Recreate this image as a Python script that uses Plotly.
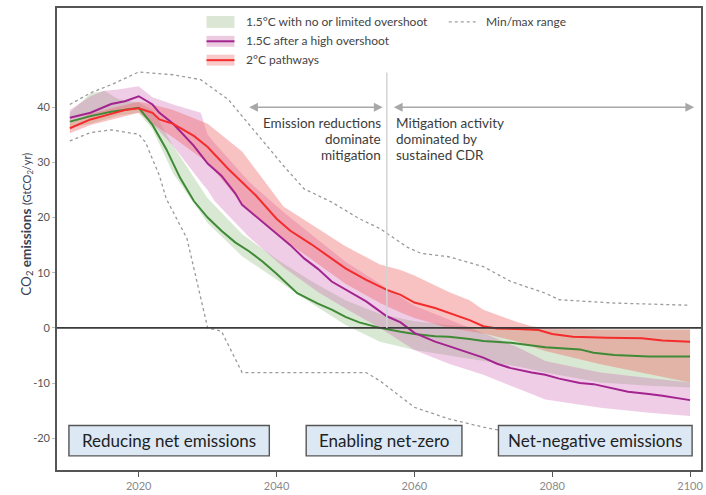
import plotly.graph_objects as go

# ---- central pathway lines (GtCO2/yr) ----
green_years = [2010, 2013, 2016, 2018, 2020, 2022, 2024, 2026, 2028, 2030, 2032, 2034, 2036, 2038,
               2040, 2043, 2046, 2048, 2050, 2052, 2055, 2058, 2060, 2063, 2065, 2068, 2070, 2074,
               2079, 2084, 2086, 2089, 2094, 2100]
green_line = [37.4, 38.4, 39.2, 39.6, 39.9, 36.8, 32.4, 27.2, 23.0, 20.0, 17.6, 15.5, 13.9, 12.0,
              9.8, 6.3, 4.4, 3.3, 2.0, 1.0, 0.0, -0.7, -1.1, -1.5, -1.6, -2.0, -2.4, -2.7,
              -3.5, -3.9, -4.5, -4.9, -5.2, -5.2]

purple_years = [2010, 2013, 2016, 2018, 2020, 2022, 2023, 2025, 2028, 2030, 2032, 2034, 2035, 2037,
                2040, 2042, 2044, 2046, 2048, 2050, 2053, 2056, 2058, 2060, 2063, 2065, 2068, 2070,
                2072, 2074, 2077, 2079, 2081, 2084, 2086, 2089, 2091, 2094, 2096, 2100]
purple_line = [38.1, 39.0, 40.6, 41.1, 42.0, 40.5, 39.0, 37.0, 33.0, 29.8, 27.6, 24.4, 22.3, 20.2,
               17.1, 15.0, 12.6, 10.7, 8.4, 6.9, 4.8, 2.1, 1.0, -0.9, -2.5, -3.3, -4.5, -5.4,
               -6.5, -7.3, -8.1, -8.5, -9.2, -10.0, -10.2, -11.0, -11.6, -12.0, -12.3, -13.1]

red_years = [2010, 2013, 2016, 2018, 2020, 2022, 2023, 2025, 2028, 2030, 2033, 2035, 2037, 2040,
             2042, 2045, 2048, 2050, 2053, 2056, 2058, 2060, 2063, 2065, 2068, 2070, 2072, 2075,
             2078, 2080, 2083, 2088, 2093, 2096, 2100]
red_line = [36.2, 37.8, 38.8, 39.5, 39.8, 39.0, 37.8, 37.0, 34.8, 32.8, 28.8, 26.4, 24.0, 19.8,
            17.6, 15.2, 12.6, 10.8, 8.7, 6.9, 6.0, 4.6, 3.6, 2.7, 1.4, 0.3, -0.1, -0.2,
            -0.4, -1.1, -1.6, -1.8, -1.9, -2.3, -2.5]

# ---- scenario ranges ----
green_band_years = [2010, 2013, 2015, 2017, 2020, 2022, 2025, 2030, 2035, 2040, 2045, 2050, 2055,
                    2060, 2065, 2070, 2075, 2079, 2087, 2094, 2100]
green_band_hi = [39.0, 42.5, 43.0, 41.5, 40.8, 39.5, 33.0, 23.5, 17.0, 12.5, 8.5, 5.0, 2.5,
                 1.2, 0.5, 0.0, -0.2, -0.3, -0.3, -0.3, -0.3]
green_band_lo = [36.3, 37.0, 37.8, 38.5, 39.0, 36.0, 28.0, 19.0, 13.0, 8.8, 4.5, 0.5, -2.5,
                 -4.0, -5.0, -6.0, -7.0, -8.1, -9.9, -10.5, -10.8]

purple_band_years = [2010, 2013, 2015, 2017, 2020, 2022, 2025, 2029, 2030, 2031, 2036, 2041, 2046,
                     2050, 2055, 2060, 2065, 2070, 2075, 2079, 2087, 2094, 2100]
purple_band_hi = [39.5, 42.0, 43.0, 43.2, 43.8, 41.8, 40.5, 39.0, 35.0, 33.5, 26.5, 21.0, 16.0,
                  12.0, 8.0, 4.0, 1.5, -1.0, -3.5, -6.0, -8.1, -9.1, -9.9]
purple_band_lo = [37.3, 38.2, 39.0, 39.5, 40.0, 37.0, 33.0, 26.5, 25.0, 23.0, 16.5, 11.0, 6.5,
                  3.5, 0.0, -4.0, -6.5, -8.5, -11.0, -13.0, -14.5, -15.4, -16.0]

red_band_years = [2010, 2013, 2016, 2020, 2022, 2025, 2030, 2035, 2041, 2045, 2050, 2055,
                  2058, 2060, 2065, 2068, 2070, 2072, 2075, 2077, 2079, 2087, 2094, 2100]
red_band_hi = [37.2, 38.8, 39.8, 41.0, 40.5, 39.5, 37.0, 32.0, 22.0, 18.8, 14.8, 11.5,
               10.5, 9.5, 6.5, 5.0, 3.3, 2.4, 1.0, 0.3, 0.0, -0.3, -0.3, -0.3]
red_band_lo = [35.3, 36.8, 37.8, 39.0, 37.0, 34.5, 30.0, 22.5, 16.0, 12.5, 8.0, 4.5,
               2.8, 1.8, 0.0, -0.6, -1.0, -1.6, -2.5, -3.3, -4.2, -6.6, -8.4, -9.9]

# ---- min/max envelope over all pathways ----
max_years = [2010, 2013, 2016, 2020, 2025, 2029, 2033, 2037, 2041, 2044, 2048, 2052, 2055, 2059,
             2061, 2065, 2070, 2074, 2079, 2081, 2089, 2100]
max_vals = [40.5, 42.6, 44.1, 46.4, 45.9, 45.0, 41.4, 35.4, 29.4, 25.2, 22.8, 19.8, 18.0, 14.6,
            13.5, 12.9, 11.1, 8.4, 6.3, 5.1, 4.5, 4.1]
min_years = [2010, 2013, 2016, 2020, 2021, 2023, 2024, 2027, 2030, 2032, 2035, 2052, 2053, 2055,
             2058, 2060, 2065, 2070, 2075]
min_vals = [33.9, 35.4, 35.9, 35.1, 33.6, 27.6, 23.4, 16.2, 0.0, -0.6, -8.1, -8.1, -8.1, -9.6,
            -12.5, -14.4, -16.5, -18.0, -19.2]

y_ticks = [40, 30, 20, 10, 0, -10, -20]
y_tick_text = ["40", "30", "20", "10", "0", "-10", "-20"]
x_ticks = [2020, 2040, 2060, 2080, 2100]

GREEN, PURPLE, RED = "#3f8a36", "#a3248f", "#f42c2c"
GREEN_FILL = "rgba(130,180,110,0.30)"
PURPLE_FILL = "rgba(205,90,175,0.30)"
RED_FILL = "rgba(240,95,95,0.38)"
FONT = "Lato"

fig = go.Figure()


def add_band(years, hi, lo, color):
    fig.add_trace(go.Scatter(
        x=years + years[::-1], y=hi + lo[::-1], fill="toself", fillcolor=color,
        mode="lines", line=dict(width=0), hoverinfo="skip", showlegend=False))


add_band(green_band_years, green_band_hi, green_band_lo, GREEN_FILL)
add_band(purple_band_years, purple_band_hi, purple_band_lo, PURPLE_FILL)
add_band(red_band_years, red_band_hi, red_band_lo, RED_FILL)

for yrs, vals in [(max_years, max_vals), (min_years, min_vals)]:
    fig.add_trace(go.Scatter(x=yrs, y=vals, mode="lines", showlegend=False,
                             line=dict(color="#9a9a9a", width=1.3, dash="dot")))

for yrs, vals, col in [(green_years, green_line, GREEN),
                       (purple_years, purple_line, PURPLE),
                       (red_years, red_line, RED)]:
    fig.add_trace(go.Scatter(x=yrs, y=vals, mode="lines", showlegend=False,
                             line=dict(color=col, width=2)))

X_RANGE = [2008.14, 2101.59]
Y_RANGE = [-25.77, 58.0]
PLOT_W, PLOT_H, L, T = 646, 465, 57, 8
Y_PER_PX = (Y_RANGE[1] - Y_RANGE[0]) / PLOT_H


def px(xp):
    return (xp - L) / PLOT_W


def py(yp):
    return 1 - (yp - T) / PLOT_H


shapes = []
annotations = []

# zero line and the split between the two mitigation phases
shapes.append(dict(type="line", xref="paper", yref="y", x0=0, x1=1, y0=0, y1=0,
                   line=dict(color="#3a3a3a", width=1.6), layer="above"))
shapes.append(dict(type="line", xref="x", yref="y", x0=2056, x1=2056, y0=0, y1=46.3,
                   line=dict(color="#d4d4d4", width=1.5), layer="above"))

# phase arrows
for xs, xe in [(2035.8, 2055.4), (2056.8, 2100.6)]:
    annotations.append(dict(x=xe, y=40, ax=xs, ay=40, xref="x", yref="y", axref="x", ayref="y",
                            text="", showarrow=True, arrowhead=2, arrowsize=1.1, arrowwidth=1.6,
                            arrowside="end+start", arrowcolor="#a8a8a8"))

left_lines = ["Emission reductions", "dominate", "mitigation"]
right_lines = ["Mitigation activity", "dominated by", "sustained CDR"]
for i, (lt, rt) in enumerate(zip(left_lines, right_lines)):
    yv = 37.2 - i * 16 * Y_PER_PX
    annotations.append(dict(x=2055.4, y=yv, xref="x", yref="y", xanchor="right",
                            yanchor="middle", showarrow=False, text=lt,
                            font=dict(family=FONT, size=13.5, color="#3c3c3c")))
    annotations.append(dict(x=2057.0, y=yv, xref="x", yref="y", xanchor="left",
                            yanchor="middle", showarrow=False, text=rt,
                            font=dict(family=FONT, size=13.5, color="#3c3c3c")))

# phase boxes along the bottom
boxes = [("Reducing net emissions", 2009.87, 2038.95),
         ("Enabling net-zero", 2044.3, 2066.9),
         ("Net-negative emissions", 2072.2, 2100.3)]
for label, x0, x1 in boxes:
    shapes.append(dict(type="rect", xref="x", yref="y", x0=x0, x1=x1, y0=-23.2, y1=-17.7,
                       fillcolor="#dce8f4", line=dict(color="#555555", width=1.4), layer="above"))
    annotations.append(dict(x=(x0 + x1) / 2, y=-20.45, xref="x", yref="y", showarrow=False,
                            text=label, font=dict(family=FONT, size=17, color="#222222")))

# legend
leg_x0, leg_x1 = px(207), px(235)
shapes.append(dict(type="rect", xref="paper", yref="paper", x0=leg_x0, x1=leg_x1,
                   y0=py(28), y1=py(16), fillcolor="#dce6d4", line=dict(width=0)))
shapes.append(dict(type="rect", xref="paper", yref="paper", x0=leg_x0, x1=leg_x1,
                   y0=py(47), y1=py(36), fillcolor="#eccbe1", line=dict(width=0)))
shapes.append(dict(type="line", xref="paper", yref="paper", x0=leg_x0, x1=leg_x1,
                   y0=py(41.5), y1=py(41.5), line=dict(color=PURPLE, width=2)))
shapes.append(dict(type="rect", xref="paper", yref="paper", x0=leg_x0, x1=leg_x1,
                   y0=py(66), y1=py(55), fillcolor="#f9c9c9", line=dict(width=0)))
shapes.append(dict(type="line", xref="paper", yref="paper", x0=leg_x0, x1=leg_x1,
                   y0=py(60.5), y1=py(60.5), line=dict(color=RED, width=2)))
shapes.append(dict(type="line", xref="paper", yref="paper", x0=px(450), x1=px(477),
                   y0=py(22), y1=py(22), line=dict(color="#a0a0a0", width=1.3, dash="dot")))

legend_items = [("1.5°C with no or limited overshoot", 245, 22),
                ("1.5C after a high overshoot", 245, 41),
                ("2°C pathways", 245, 60),
                ("Min/max range", 485, 22)]
for text, lx, ly in legend_items:
    annotations.append(dict(x=px(lx), y=py(ly), xref="paper", yref="paper", xanchor="left",
                            yanchor="middle", showarrow=False, text=text,
                            font=dict(family=FONT, size=12, color="#444444")))

# y-axis title
annotations.append(dict(x=px(15), y=py(226), xref="paper", yref="paper", textangle=-90,
                        showarrow=False,
                        text="CO<sub>2</sub> <b>emissions</b> "
                             "<span style='font-size:11px'>(GtCO<sub>2</sub>/yr)</span>",
                        font=dict(family=FONT, size=13.5, color="#3a4150")))

fig.update_layout(
    width=706, height=495, margin=dict(l=L, r=3, t=T, b=22),
    paper_bgcolor="white", plot_bgcolor="white", showlegend=False,
    shapes=shapes, annotations=annotations,
    xaxis=dict(range=X_RANGE, tickvals=x_ticks, showgrid=False, zeroline=False,
               showline=True, mirror=True, linecolor="#555555", linewidth=1.6,
               ticks="outside", ticklen=5, tickcolor="#555555",
               tickfont=dict(family=FONT, size=11, color="#8a8a8a")),
    yaxis=dict(range=Y_RANGE, tickvals=y_ticks, ticktext=y_tick_text, showgrid=False,
               zeroline=False, showline=True, mirror=True, linecolor="#555555", linewidth=1.6,
               ticks="outside", ticklen=3, tickcolor="#bbbbbb",
               tickfont=dict(family=FONT, size=11, color="#555555")),
)

fig.write_html("out.html")
